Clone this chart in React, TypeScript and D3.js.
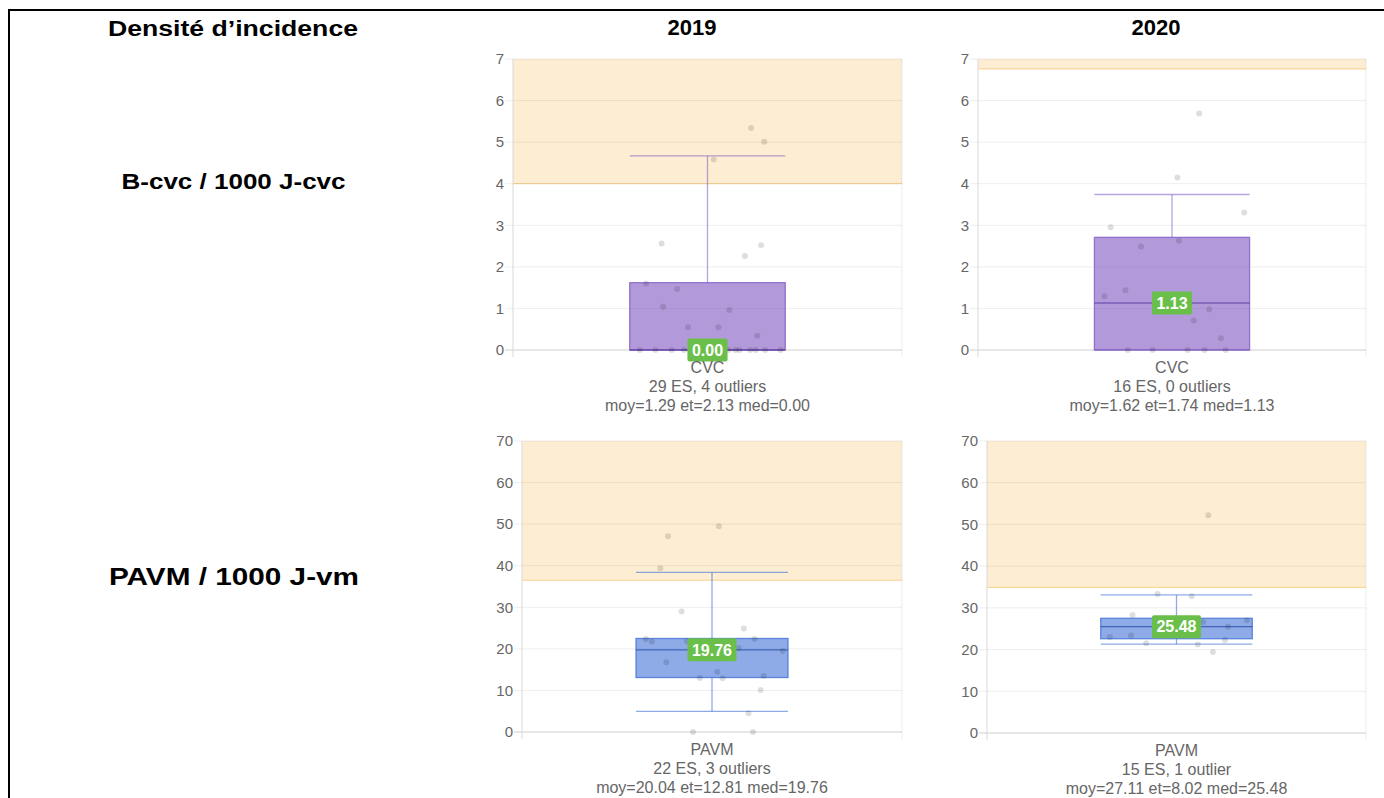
import React from "react";
import * as d3 from "d3";

// ---------- DATA ----------
const years = ["2019", "2020"];
const rowTitles = ["B-cvc / 1000 J-cvc", "PAVM / 1000 J-vm"];
const mainTitle = "Densité d’incidence";
const categories = ["CVC", "PAVM"];
const yMaxByRow = [7, 70];

// orange alert zone lower bound [row][year]
const alertThresholds = [
  [4.0, 6.76],
  [36.5, 34.9],
];

// box stats: [whiskerLow, q1, median, q3, whiskerHigh]
const cvc2019Box = [0, 0, 0.0, 1.62, 4.67];
const cvc2020Box = [0, 0, 1.13, 2.71, 3.74];
const pavm2019Box = [4.95, 13.1, 19.76, 22.5, 38.4];
const pavm2020Box = [21.3, 22.6, 25.48, 27.5, 33.1];

// individual establishment values and horizontal jitter (fraction of half box width)
const cvc2019Values = [5.34, 5.01, 4.58, 2.56, 2.52, 2.26, 1.6, 1.47, 1.04, 0.96, 0.55, 0.55, 0.34,
  0, 0, 0, 0, 0, 0, 0, 0, 0, 0, 0, 0, 0, 0, 0, 0];
const cvc2019Jitter = [0.56, 0.73, 0.08, -0.59, 0.69, 0.48, -0.79, -0.39, -0.57, 0.28, -0.25, 0.14, 0.64,
  -0.87, -0.67, -0.46, -0.3, -0.18, -0.09, -0.03, 0.06, 0.19, 0.27, 0.36, 0.41, 0.55, 0.62, 0.74, 0.94];

const cvc2020Values = [5.69, 4.15, 3.31, 2.95, 2.63, 2.49, 1.44, 1.29, 0.98, 0.71, 0.28, 0, 0, 0, 0, 0];
const cvc2020Jitter = [0.35, 0.07, 0.93, -0.79, 0.09, -0.4, -0.6, -0.87, 0.48, 0.28, 0.63, -0.57, -0.25, 0.2, 0.42, 0.69];

const pavm2019Values = [49.5, 47.1, 39.4, 29.0, 24.9, 22.4, 22.4, 21.7, 21.8, 20.2, 19.5, 16.8, 14.5, 13.5,
  13.0, 12.9, 10.1, 4.5, 0, 0, 20.6, 19.2];
const pavm2019Jitter = [0.09, -0.58, -0.68, -0.4, 0.42, -0.87, 0.56, -0.79, -0.33, 0.35, 0.93, -0.6, 0.07, 0.68,
  -0.16, 0.14, 0.64, 0.48, -0.25, 0.54, -0.05, 0.15];

const pavm2020Values = [52.2, 33.3, 32.8, 28.3, 27.0, 26.6, 25.5, 23.4, 23.0, 22.3, 21.5, 21.2, 19.4, 25.9, 24.6];
const pavm2020Jitter = [0.42, -0.25, 0.2, -0.58, 0.93, 0.35, 0.68, -0.6, -0.88, 0.64, -0.4, 0.28, 0.48, -0.08, 0.1];

const summaryLines = [
  ["29 ES, 4 outliers", "moy=1.29 et=2.13 med=0.00"],
  ["16 ES, 0 outliers", "moy=1.62 et=1.74 med=1.13"],
  ["22 ES, 3 outliers", "moy=20.04 et=12.81 med=19.76"],
  ["15 ES, 1 outlier", "moy=27.11 et=8.02 med=25.48"],
];

// ---------- STYLE / LAYOUT ----------
const FONT = "'Liberation Sans', Arial, Helvetica, sans-serif";
const palette = {
  CVC: { fill: "rgba(126,87,194,0.6)", stroke: "rgba(126,87,194,0.75)", whisker: "rgba(126,87,194,0.55)", median: "rgba(100,65,165,0.7)" },
  PAVM: { fill: "rgba(66,114,215,0.6)", stroke: "rgba(66,114,215,0.8)", whisker: "rgba(66,114,215,0.6)", median: "rgba(40,80,170,0.75)" },
};

const panelLayouts = [
  { left: 513, right: 902, top: 59, bottom: 350 },
  { left: 978, right: 1366, top: 59, bottom: 350 },
  { left: 522, right: 902, top: 441, bottom: 732 },
  { left: 987, right: 1366, top: 441, bottom: 733 },
];

function labelWidth(s: string, size: number) {
  let w = 0;
  for (const c of s) w += c === "." ? 0.278 : 0.556;
  return w * size;
}

type PanelProps = {
  layout: { left: number; right: number; top: number; bottom: number };
  yMax: number;
  threshold: number;
  box: number[];
  values: number[];
  jitter: number[];
  category: string;
  lines: string[];
};

function Panel({ layout, yMax, threshold, box, values, jitter, category, lines }: PanelProps) {
  const { left, right, top, bottom } = layout;
  const y = d3.scaleLinear().domain([0, yMax]).range([bottom, top]);
  const x = d3.scaleBand().domain([category]).range([left, right]);
  const cx = (x(category) as number) + x.bandwidth() / 2;
  const bw = x.bandwidth() * 0.4;
  const col = (palette as any)[category];
  const ticks = y.ticks(7);
  const [wLo, q1, med, q3, wHi] = box;
  const medText = med.toFixed(2);
  const lw = labelWidth(medText, 16) + 9;

  return (
    <g>
      {/* alert zone */}
      <rect x={left} y={y(yMax)} width={right - left} height={y(threshold) - y(yMax)} fill="rgba(245,166,35,0.2)" />
      <line x1={left} x2={right} y1={y(threshold)} y2={y(threshold)} stroke="rgba(245,166,35,0.45)" strokeWidth={1} />
      {/* grid */}
      {ticks.map((t) => (
        <g key={t}>
          <line x1={left - 8} x2={right} y1={y(t)} y2={y(t)} stroke={t === 0 ? "#cfcfcf" : "rgba(0,0,0,0.07)"} strokeWidth={1} />
          <text x={left - 9} y={y(t)} dy="0.35em" textAnchor="end" fontFamily={FONT} fontSize={15} fill="#666">
            {t}
          </text>
        </g>
      ))}
      <line x1={left} x2={left} y1={top} y2={bottom + 7} stroke="#d9d9d9" strokeWidth={1} />
      <line x1={right} x2={right} y1={top} y2={bottom + 7} stroke="rgba(0,0,0,0.07)" strokeWidth={1} />
      {/* whiskers */}
      <line x1={cx} x2={cx} y1={y(q3)} y2={y(wHi)} stroke={col.whisker} strokeWidth={1.3} />
      <line x1={cx - bw / 2} x2={cx + bw / 2} y1={y(wHi)} y2={y(wHi)} stroke={col.whisker} strokeWidth={1.3} />
      <line x1={cx} x2={cx} y1={y(q1)} y2={y(wLo)} stroke={col.whisker} strokeWidth={1.3} />
      <line x1={cx - bw / 2} x2={cx + bw / 2} y1={y(wLo)} y2={y(wLo)} stroke={col.whisker} strokeWidth={1.3} />
      {/* box */}
      <rect x={cx - bw / 2} y={y(q3)} width={bw} height={Math.max(0, y(q1) - y(q3))} fill={col.fill} stroke={col.stroke} strokeWidth={1.3} />
      <line x1={cx - bw / 2} x2={cx + bw / 2} y1={y(med)} y2={y(med)} stroke={col.median} strokeWidth={1.3} />
      {/* points */}
      {values.map((v, i) => (
        <circle key={i} cx={cx + (jitter[i] * bw) / 2} cy={y(v)} r={3} fill="rgba(0,0,0,0.13)" />
      ))}
      {/* median label */}
      <rect x={cx - lw / 2} y={y(med) - 11.5} width={lw} height={23} rx={2} fill="#6abf4a" />
      <text x={cx} y={y(med)} dy="0.36em" textAnchor="middle" fontFamily={FONT} fontSize={16} fontWeight="bold" fill="#fff">
        {medText}
      </text>
      {/* category labels */}
      {[category, ...lines].map((s, i) => (
        <text key={i} x={cx} y={bottom + 17 + i * 19} dy="0.35em" textAnchor="middle" fontFamily={FONT} fontSize={16} fill="#666">
          {s}
        </text>
      ))}
    </g>
  );
}

export default function App() {
  const panels = [
    { row: 0, col: 0, box: cvc2019Box, values: cvc2019Values, jitter: cvc2019Jitter },
    { row: 0, col: 1, box: cvc2020Box, values: cvc2020Values, jitter: cvc2020Jitter },
    { row: 1, col: 0, box: pavm2019Box, values: pavm2019Values, jitter: pavm2019Jitter },
    { row: 1, col: 1, box: pavm2020Box, values: pavm2020Values, jitter: pavm2020Jitter },
  ];
  return (
    <svg width={1384} height={798} style={{ position: "absolute", left: 0, top: 0, display: "block", background: "#fff" }}>
      <rect x={0} y={0} width={1384} height={798} fill="#fff" />
      {/* frame */}
      <line x1={8} x2={1384} y1={10} y2={10} stroke="#000" strokeWidth={2} />
      <line x1={9} x2={9} y1={9} y2={798} stroke="#000" strokeWidth={2} />
      {/* titles */}
      <text x={233} y={36} textAnchor="middle" fontFamily={FONT} fontSize={22} fontWeight="bold" fill="#000" textLength={250} lengthAdjust="spacingAndGlyphs">
        {mainTitle}
      </text>
      <text x={692} y={35} textAnchor="middle" fontFamily={FONT} fontSize={22} fontWeight="bold" fill="#000">{years[0]}</text>
      <text x={1156} y={35} textAnchor="middle" fontFamily={FONT} fontSize={22} fontWeight="bold" fill="#000">{years[1]}</text>
      <text x={233.5} y={189} textAnchor="middle" fontFamily={FONT} fontSize={22} fontWeight="bold" fill="#000" textLength={224} lengthAdjust="spacingAndGlyphs">
        {rowTitles[0]}
      </text>
      <text x={234} y={585} textAnchor="middle" fontFamily={FONT} fontSize={23} fontWeight="bold" fill="#000" textLength={250} lengthAdjust="spacingAndGlyphs">
        {rowTitles[1]}
      </text>
      {panels.map((p, i) => (
        <Panel
          key={i}
          layout={panelLayouts[i]}
          yMax={yMaxByRow[p.row]}
          threshold={alertThresholds[p.row][p.col]}
          box={p.box}
          values={p.values}
          jitter={p.jitter}
          category={categories[p.row]}
          lines={summaryLines[i]}
        />
      ))}
    </svg>
  );
}
